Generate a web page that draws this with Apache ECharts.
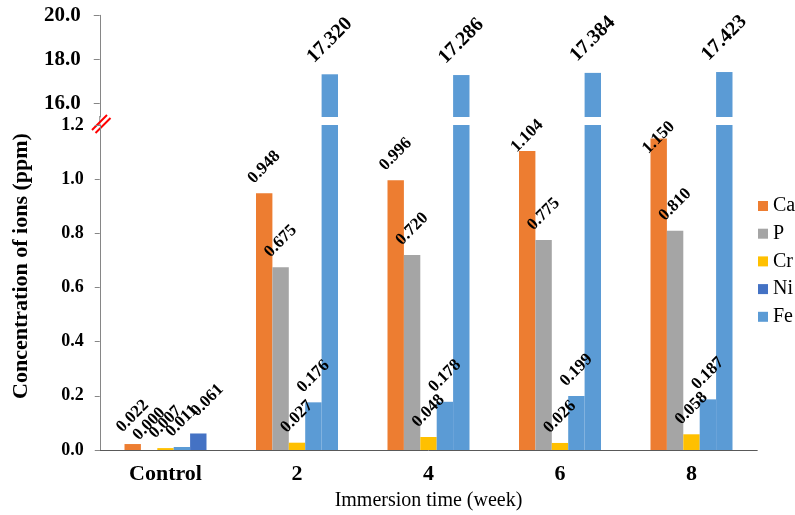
<!DOCTYPE html>
<html><head><meta charset="utf-8">
<script src="https://cdn.jsdelivr.net/npm/echarts@6/dist/echarts.min.js"></script>
<style>html,body{margin:0;padding:0;background:#fff}#c{width:795px;height:515px}</style>
</head><body><div id="c"></div>
<script>
// ---- data ----
const categories = ['Control', '2', '4', '6', '8'];
const seriesNames = ['Ca', 'P', 'Cr', 'Ni', 'Fe'];
const ca = [0.022, 0.948, 0.996, 1.104, 1.150];
const p  = [0.000, 0.675, 0.720, 0.775, 0.810];
const cr = [0.007, 0.027, 0.048, 0.026, 0.058];
const ni = [0.011, 0.176, 0.178, 0.199, 0.187];
const fe = [0.061, 17.320, 17.286, 17.384, 17.423];
const lowerAxisMax = 1.2;
const upperTickValues = [16, 18, 20];
const yTitle = 'Concentration of ions (ppm)';
const xTitle = 'Immersion time (week)';

// ---- styling ----
const FONT = 'Liberation Serif';
const C_ORANGE = '#ED7D31', C_GREY = '#A5A5A5', C_YELLOW = '#FFC000', C_DBLUE = '#4472C4', C_LBLUE = '#5B9BD5';
const legendColors = [C_ORANGE, C_GREY, C_YELLOW, C_DBLUE, C_LBLUE];
const slotValues = [ca, p, cr, ni, fe];
// colours as drawn in each slot (slot 4 is drawn light blue, slot 5 control is dark blue)
const slotColor = (s, i) => {
  if (s === 3) return C_LBLUE;
  if (s === 4) return i === 0 ? C_DBLUE : C_LBLUE;
  return legendColors[s];
};
const labelTweaks = { '0,0': {distance: 28}, '0,3': {distance: 15}, '0,4': {distance: 1}, '4,0': {distance: 24, offset: [13, 0]} };

const BAR_W = 16.4;
const gridLeft = 99.75, gridRight = 37.75;

const lowerSeries = slotValues.map((arr, s) => ({
  type: 'bar', name: seriesNames[s], xAxisIndex: 0, yAxisIndex: 0,
  barWidth: BAR_W, barGap: 0,
  itemStyle: { color: legendColors[s] },
  label: {
    show: true, position: 'top', rotate: 45, align: 'center', verticalAlign: 'middle', distance: 26,
    fontFamily: FONT, fontWeight: 'bold', fontSize: 17, color: '#000',
    formatter: prm => (prm.value <= lowerAxisMax ? Number(prm.value).toFixed(3) : '')
  },
  data: arr.map((v, i) => {
    const item = { value: v, itemStyle: { color: slotColor(s, i) } };
    const t = labelTweaks[s + ',' + i];
    if (t) item.label = t;
    return item;
  })
}));

const upperSeries = slotValues.map((arr, s) => ({
  type: 'bar', name: seriesNames[s], xAxisIndex: 1, yAxisIndex: 1,
  barWidth: BAR_W, barGap: 0,
  itemStyle: { color: legendColors[s] },
  label: {
    show: true, position: 'top', rotate: 45, align: 'center', verticalAlign: 'middle', distance: 34,
    fontFamily: FONT, fontWeight: 'bold', fontSize: 20, color: '#000',
    formatter: prm => Number(prm.value).toFixed(3)
  },
  data: arr.map((v, i) => (s === 4 && v > lowerAxisMax) ? { value: v, itemStyle: { color: slotColor(s, i) } } : '-')
}));

const chart = echarts.init(document.getElementById('c'), null, { renderer: 'canvas' });
chart.setOption({
  animation: false,
  backgroundColor: '#fff',
  textStyle: { fontFamily: FONT },
  grid: [
    { left: gridLeft, right: gridRight, top: 125, bottom: 65, outerBoundsMode: 'none', containLabel: false },
    { left: gridLeft, right: gridRight, top: 15.3, height: 101.7, outerBoundsMode: 'none', containLabel: false }
  ],
  legend: {
    orient: 'vertical', left: 758, top: 196, padding: 0,
    itemWidth: 10, itemHeight: 10, itemGap: 7.7, icon: 'rect',
    textStyle: { fontFamily: FONT, fontSize: 20, lineHeight: 20, color: '#000' },
    data: seriesNames.map((n, s) => ({ name: n, itemStyle: { color: legendColors[s] } }))
  },
  xAxis: [
    { type: 'category', gridIndex: 0, data: categories,
      axisLine: { show: true, lineStyle: { color: '#595959', width: 1 } },
      axisTick: { show: false },
      axisLabel: { margin: 13, fontFamily: FONT, fontWeight: 'bold', fontSize: 22, color: '#000' },
      name: xTitle, nameLocation: 'middle', nameGap: 41,
      nameTextStyle: { fontFamily: FONT, fontSize: 20, color: '#000' }
    },
    { type: 'category', gridIndex: 1, data: categories, show: false }
  ],
  yAxis: [
    { type: 'value', gridIndex: 0, min: 0, max: lowerAxisMax, interval: 0.2,
      splitLine: { show: false },
      axisLine: { show: true, lineStyle: { color: '#868686', width: 1 } },
      axisTick: { show: true, inside: false, length: 5, lineStyle: { color: '#868686' } },
      axisLabel: { margin: 16, fontFamily: FONT, fontWeight: 'bold', fontSize: 18, color: '#000',
        formatter: v => v.toFixed(1) }
    },
    { type: 'value', gridIndex: 1, min: 15.38, max: 20,
      splitLine: { show: false },
      axisLine: { show: true, lineStyle: { color: '#868686', width: 1 } },
      axisTick: { show: true, inside: false, length: 6, lineStyle: { color: '#868686' }, customValues: upperTickValues },
      axisLabel: { margin: 19, fontFamily: FONT, fontWeight: 'bold', fontSize: 21, color: '#000',
        customValues: upperTickValues, formatter: v => Number(v).toFixed(1) }
    }
  ],
  graphic: [
    { type: 'text', x: 21, y: 266, rotation: Math.PI / 2,
      style: { text: yTitle, fontFamily: FONT, fontWeight: 'bold', fontSize: 22, fill: '#000', align: 'center', verticalAlign: 'middle' } },
    { type: 'line', shape: { x1: 99.75, y1: 116, x2: 99.75, y2: 126 }, style: { stroke: '#868686', lineWidth: 1 } },
    { type: 'line', shape: { x1: 92, y1: 130, x2: 107, y2: 115 }, style: { stroke: '#FF0000', lineWidth: 2 } },
    { type: 'line', shape: { x1: 95.5, y1: 133, x2: 110.5, y2: 118 }, style: { stroke: '#FF0000', lineWidth: 2 } }
  ],
  series: lowerSeries.concat(upperSeries)
});
</script>
</body></html>
